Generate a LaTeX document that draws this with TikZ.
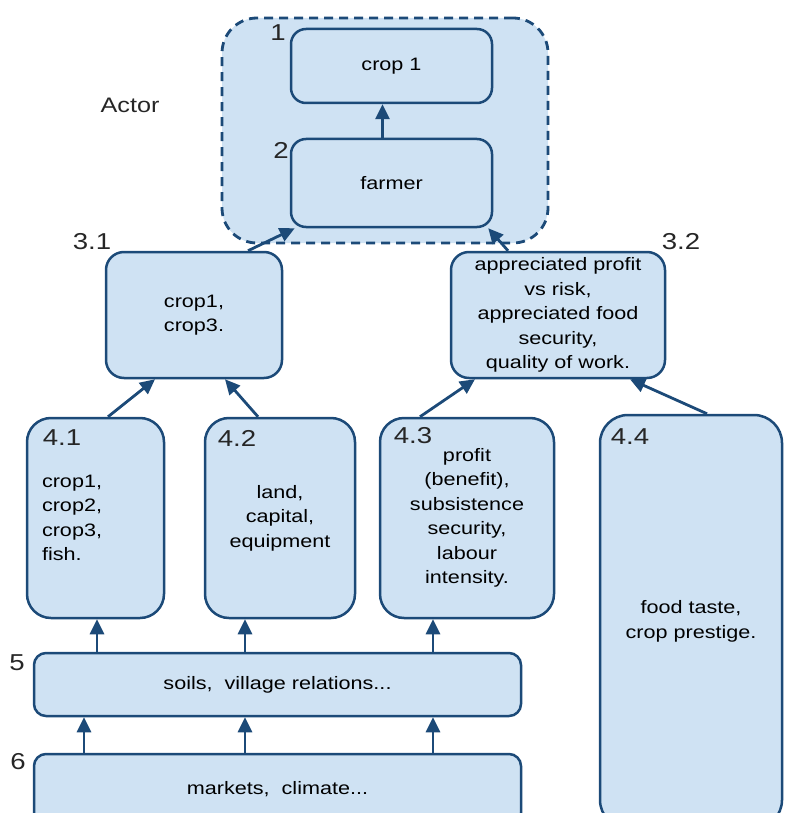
\documentclass[tikz,border=0pt]{standalone}
\usepackage{fontspec}
\setmainfont{Liberation Sans}[FakeStretch=1.2]
\usetikzlibrary{arrows.meta}
\definecolor{boxline}{HTML}{1C4A78}
\definecolor{boxfill}{HTML}{CFE2F3}
\newcommand{\boxtext}{\fontsize{18}{24.5}\selectfont}
\newcommand{\numtext}{\fontsize{23}{23}\selectfont}
\tikzset{
    box/.style={draw=boxline, fill=boxfill, line width=2.5pt, rounded corners=18pt, align=center, font=\boxtext, inner sep=2pt},
    num/.style={font=\numtext, text=black!85, inner sep=0pt},
    arr/.style={draw=boxline, line width=2.8pt, -{Triangle[length=15pt,width=14pt]}},
}

\begin{document}
\begin{tikzpicture}[x=1pt, y=-1pt]
        \useasboundingbox (0,0) rectangle (784,813);
        \clip (0,0) rectangle (784,813);

        \node[box, dashed, dash pattern=on 9pt off 6pt, line width=2.8pt, rounded corners=35pt, minimum width=326pt, minimum height=225pt] (actor) at (385,130.5) {};
        \node[box, rounded corners=15pt, minimum width=201pt, minimum height=74pt] (n1) at (391.5,66) {crop 1};
        \node[box, rounded corners=15pt, minimum width=201pt, minimum height=88pt] (n2) at (391.5,183) {farmer};

        \node[box, minimum width=176pt, minimum height=126pt] (n31) at (194,315) {crop1,\\crop3.};
        \node[box, minimum width=214pt, minimum height=126pt] (n32) at (558,315) {appreciated profit\\vs risk,\\appreciated food\\security,\\quality of work.};

        \node[box, rounded corners=24pt, minimum width=137pt, minimum height=200pt, text width=107pt, inner xsep=15pt, align=left] (n41) at (95.5,518) {crop1,\\crop2,\\crop3,\\fish.};
        \node[box, rounded corners=24pt, minimum width=150pt, minimum height=200pt] (n42) at (280,518) {land,\\capital,\\equipment};
        \node[box, rounded corners=24pt, minimum width=174pt, minimum height=200pt] (n43) at (467,518) {profit\\(benefit),\\subsistence\\security,\\labour\\intensity.};
        \node[box, rounded corners=28pt, minimum width=182pt, minimum height=413pt] (n44) at (691,621.5) {food taste,\\crop prestige.};

        \node[box, rounded corners=12pt, minimum width=487pt, minimum height=63pt] (n5) at (277.5,684.5) {soils,~ village relations...};
        \node[box, rounded corners=12pt, minimum width=487pt, minimum height=71pt] (n6) at (277.5,789.5) {markets,~ climate...};

        \node[num] (l1) at (278,33) {1};
        \node[num] (l2) at (281,150) {2};
        \node[num, font=\fontsize{21}{21}\selectfont] (lactor) at (130,105) {Actor};
        \node[num] (l31) at (92,242) {3.1};
        \node[num] (l32) at (681,242) {3.2};
        \node[num] (l41) at (62,438) {4.1};
        \node[num] (l42) at (237,438) {4.2};
        \node[num] (l43) at (413,436) {4.3};
        \node[num] (l44) at (630,437) {4.4};
        \node[num] (l5) at (17,663) {5};
        \node[num] (l6) at (18,762) {6};

        \draw[arr] ([xshift=-9pt]n2.north) -- ([xshift=-9pt]n1.south);
        \draw[arr] ([xshift=54pt]n31.north) -- ([xshift=5pt]n2.south west);
        \draw[arr] ([xshift=-50pt]n32.north) -- ([xshift=-5pt]n2.south east);

        \draw[arr] ([xshift=12.5pt]n41.north) -- ([xshift=-39pt]n31.south);
        \draw[arr] ([xshift=-22pt]n42.north) -- ([xshift=31pt]n31.south);
        \draw[arr] ([xshift=-47pt]n43.north) -- ([xshift=-83pt]n32.south);
        \draw[arr] ([xshift=16pt]n44.north) -- ([xshift=72pt]n32.south);

        \foreach \x/\t in {97/n41, 245/n42, 433/n43}
                \draw[arr] (n5.north -| \x,0) -- (\t.south -| \x,0);
        \foreach \x in {84, 245, 433}
                \draw[arr] (n6.north -| \x,0) -- (n5.south -| \x,0);
    \end{tikzpicture}
\end{document}
